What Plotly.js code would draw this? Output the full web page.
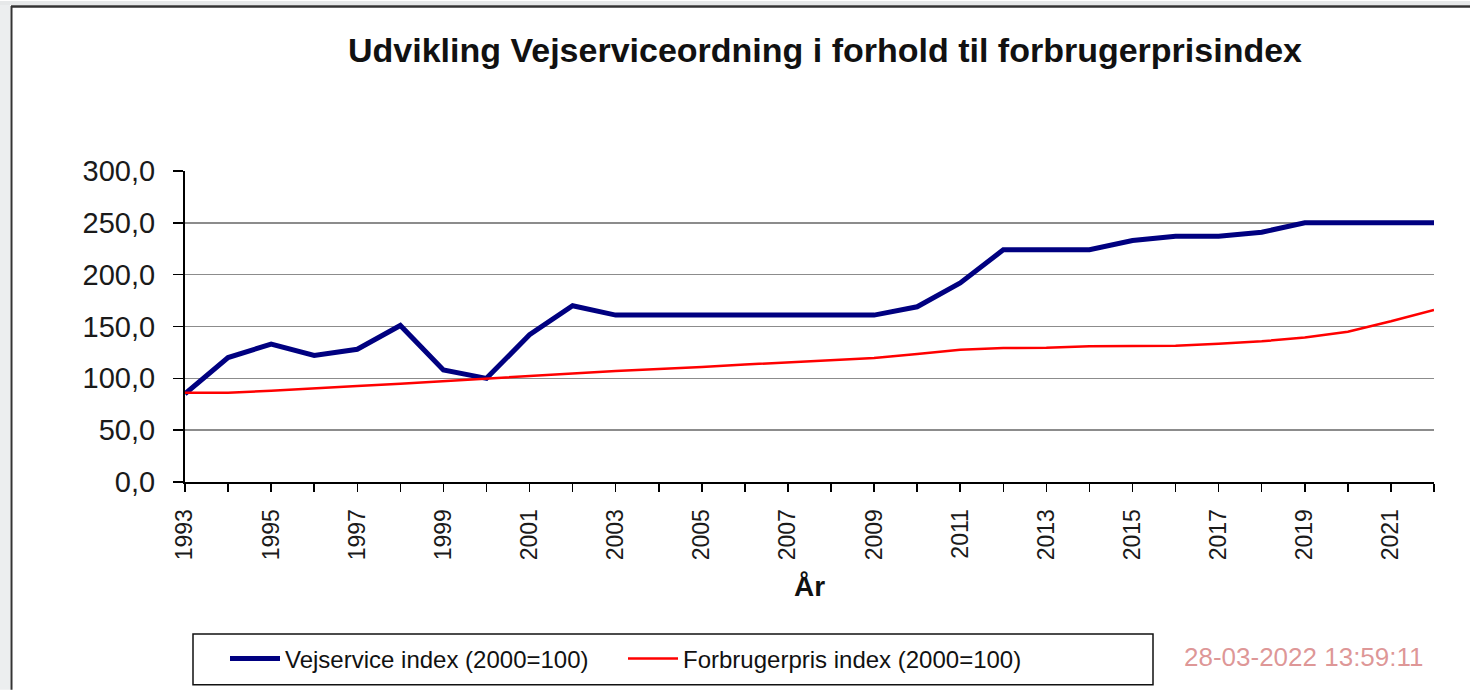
<!DOCTYPE html>
<html>
<head>
<meta charset="utf-8">
<script src="https://cdn.plot.ly/plotly-3.0.1.min.js"></script>
<style>
  html, body { margin: 0; padding: 0; background: #ffffff; overflow: hidden; }
  #chart { width: 1470px; height: 693px; }
</style>
</head>
<body>
<div id="chart"></div>
<script>
// ---- Data ----
const years = [1993, 1994, 1995, 1996, 1997, 1998, 1999, 2000, 2001, 2002,
               2003, 2004, 2005, 2006, 2007, 2008, 2009, 2010, 2011, 2012,
               2013, 2014, 2015, 2016, 2017, 2018, 2019, 2020, 2021, 2022];
const vejserviceIndex = [85, 120, 133, 122, 128, 151, 108, 100, 142, 170,
                         161, 161, 161, 161, 161, 161, 161, 169, 192, 224,
                         224, 224, 233, 237, 237, 241, 250, 250, 250, 250];
const forbrugerprisIndex = [86, 86, 88, 90, 92.6, 94.8, 97.4, 100, 102.8, 104.7,
                            107, 108.7, 111, 113.3, 115.6, 117.3, 119.7, 123.5, 127.5, 129.3,
                            129.5, 131, 131, 131.5, 133.4, 135.7, 139.5, 145, 155, 166];
const seriesNames = ["Vejservice index (2000=100)", "Forbrugerpris index (2000=100)"];
const chartTitle = "Udvikling Vejserviceordning i forhold til forbrugerprisindex";
const xAxisTitle = "År";
const timestampText = "28-03-2022 13:59:11";

// ---- Layout geometry (pixels) ----
const W = 1470, H = 693;
const PL = 185, PR = 1434, PT = 171, PB = 484;
const pxX = p => (p - PL) / (PR - PL);
const pxY = p => (PB - p) / (PB - PT);
const FONT = "Liberation Sans, Arial, Helvetica, sans-serif";

const traces = [
  {
    x: years, y: vejserviceIndex, name: seriesNames[0], type: "scatter", mode: "lines",
    line: { color: "#000080", width: 5 }
  },
  {
    x: years, y: forbrugerprisIndex, name: seriesNames[1], type: "scatter", mode: "lines",
    line: { color: "#ff0000", width: 2.5 }
  }
];

const layout = {
  width: W, height: H,
  margin: { l: PL, r: W - PR, t: PT, b: H - PB, pad: 0 },
  paper_bgcolor: "#ffffff",
  plot_bgcolor: "#ffffff",
  separators: ", ",
  font: { family: FONT, color: "#1a1a1a" },
  showlegend: true,
  title: {
    text: "<b>" + chartTitle + "</b>",
    font: { family: FONT, size: 34, color: "#111111" },
    xref: "container", yref: "container",
    x: 825 / W, xanchor: "center",
    y: 1 - 50 / H, yanchor: "middle"
  },
  xaxis: {
    type: "linear",
    range: [1993, 2022],
    tickmode: "linear", tick0: 1993, dtick: 2,
    ticks: "outside", ticklen: 8, tickwidth: 1.5, tickcolor: "#000000",
    minor: { dtick: 1, tick0: 1993, ticks: "outside", ticklen: 8, tickwidth: 1.5, tickcolor: "#000000", showgrid: false },
    tickangle: -90,
    tickfont: { family: FONT, size: 23, color: "#1a1a1a" },
    ticklabelstandoff: 8,
    showline: true, linecolor: "#000000", linewidth: 2,
    showgrid: false, zeroline: false,
    fixedrange: true,
    automargin: false,
    title: {
      text: "<b>" + xAxisTitle + "</b>",
      font: { family: FONT, size: 28, color: "#111111" },
      standoff: 17
    }
  },
  xaxis2: {
    overlaying: "x", matches: "x", anchor: "y", side: "bottom",
    type: "linear",
    range: [1993, 2022],
    tickmode: "linear", tick0: 1993, dtick: 1,
    ticks: "inside", ticklen: 5, tickwidth: 1.5, tickcolor: "#000000",
    showticklabels: false, showline: false, showgrid: false, zeroline: false,
    fixedrange: true, automargin: false
  },
  yaxis: {
    range: [0, 300],
    tickmode: "linear", tick0: 0, dtick: 50,
    tickformat: ".1f",
    ticks: "outside", ticklen: 10, tickwidth: 1.5, tickcolor: "#000000",
    tickfont: { family: FONT, size: 29, color: "#1a1a1a" },
    ticklabelstandoff: 12,
    showline: true, linecolor: "#000000", linewidth: 2,
    showgrid: true, gridcolor: "#8c8c8c", gridwidth: 1.5,
    zeroline: false,
    fixedrange: true,
    automargin: false
  },
  legend: {
    orientation: "h",
    x: pxX(225), xanchor: "left",
    y: pxY(662), yanchor: "middle",
    bgcolor: "rgba(0,0,0,0)",
    borderwidth: 0,
    font: { family: FONT, size: 24, color: "#111111" },
    itemwidth: 50,
    entrywidth: 333, entrywidthmode: "pixels",
    traceorder: "normal"
  },
  shapes: [
    // light grey window frame strips
    { type: "rect", xref: "paper", yref: "paper", x0: pxX(0), x1: pxX(10), y0: pxY(H), y1: pxY(0),
      fillcolor: "#eceeef", line: { width: 0 }, layer: "below" },
    { type: "rect", xref: "paper", yref: "paper", x0: pxX(0), x1: pxX(W), y0: pxY(4), y1: pxY(0),
      fillcolor: "#e6e8e9", line: { width: 0 }, layer: "below" },
    // dark chart border (left and top)
    { type: "line", xref: "paper", yref: "paper", x0: pxX(11.5), x1: pxX(11.5), y0: pxY(H), y1: pxY(5),
      line: { color: "#333333", width: 2 } },
    { type: "line", xref: "paper", yref: "paper", x0: pxX(11), x1: pxX(W), y0: pxY(5.5), y1: pxY(5.5),
      line: { color: "#333333", width: 2.5 } },
    // legend frame
    { type: "rect", xref: "paper", yref: "paper", x0: pxX(193), x1: pxX(1153), y0: pxY(688), y1: pxY(637),
      line: { color: "#111111", width: 1.5 }, fillcolor: "rgba(0,0,0,0)" }
  ],
  annotations: [
    {
      text: timestampText, xref: "paper", yref: "paper",
      x: pxX(1182), xanchor: "left", y: pxY(660), yanchor: "middle",
      showarrow: false,
      font: { family: FONT, size: 26, color: "rgba(200,80,80,0.6)" }
    }
  ]
};

Plotly.newPlot("chart", traces, layout, { displayModeBar: false, staticPlot: true });
</script>
</body>
</html>
